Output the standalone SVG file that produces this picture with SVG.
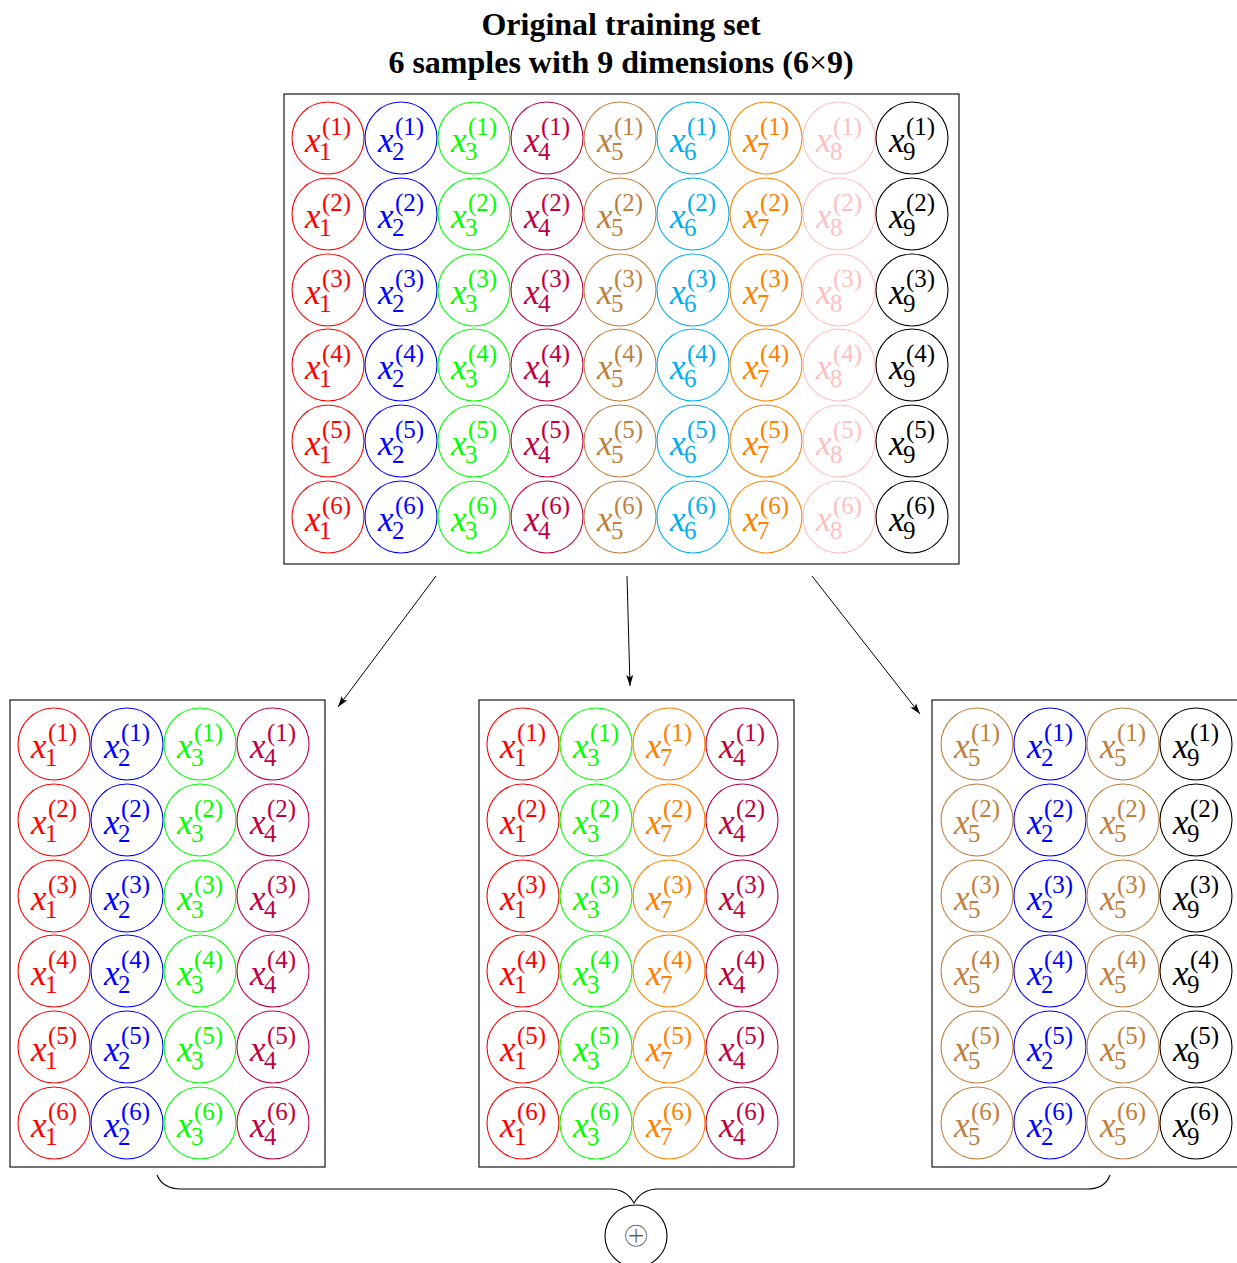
<svg xmlns="http://www.w3.org/2000/svg" width="1237" height="1263" viewBox="0 0 1237 1263">
<style>
text{font-family:"Liberation Serif","Times New Roman",serif;}
.title{font-size:32px;font-weight:bold;text-anchor:middle;fill:#000}
.n circle{fill:none;stroke:currentColor;stroke-width:1.1}
.n text{fill:currentColor}
.i{font-style:italic;font-size:35px}
.s{font-size:25px}
.box{fill:none;stroke:#000;stroke-width:1.1}
.k1{color:#ff0000}.k2{color:#0000ff}.k3{color:#00ff00}.k4{color:#bf0040}.k5{color:#bf8040}
.k6{color:#00aeef}.k7{color:#ff8000}.k8{color:#ffbfbf}.k9{color:#000000}
.conn line{stroke:#000;stroke-width:1}
</style>
<defs>
<marker id="ah" viewBox="0 0 11 8" refX="11" refY="4" markerWidth="11" markerHeight="8" markerUnits="userSpaceOnUse" orient="auto">
<path d="M0,0.5 L11,4 L0,7.5 L2.5,4 z" fill="#000"/>
</marker>
</defs>
<g id="title">
<text class="title" x="621" y="35">Original training set</text>
<text class="title" x="621" y="73">6 samples with 9 dimensions (6<tspan font-weight="normal">×</tspan>9)</text>
</g>
<g id="original">
<rect class="box" x="284" y="94" width="675" height="470"/>
<g class="n k1" transform="translate(328,138)"><circle r="36"/><text><tspan class="i" x="-23" y="14">x</tspan><tspan class="s" x="-9" y="22">1</tspan><tspan class="s" x="-6" y="-3">(1)</tspan></text></g>
<g class="n k2" transform="translate(401,138)"><circle r="36"/><text><tspan class="i" x="-23" y="14">x</tspan><tspan class="s" x="-9" y="22">2</tspan><tspan class="s" x="-6" y="-3">(1)</tspan></text></g>
<g class="n k3" transform="translate(474,138)"><circle r="36"/><text><tspan class="i" x="-23" y="14">x</tspan><tspan class="s" x="-9" y="22">3</tspan><tspan class="s" x="-6" y="-3">(1)</tspan></text></g>
<g class="n k4" transform="translate(547,138)"><circle r="36"/><text><tspan class="i" x="-23" y="14">x</tspan><tspan class="s" x="-9" y="22">4</tspan><tspan class="s" x="-6" y="-3">(1)</tspan></text></g>
<g class="n k5" transform="translate(620,138)"><circle r="36"/><text><tspan class="i" x="-23" y="14">x</tspan><tspan class="s" x="-9" y="22">5</tspan><tspan class="s" x="-6" y="-3">(1)</tspan></text></g>
<g class="n k6" transform="translate(693,138)"><circle r="36"/><text><tspan class="i" x="-23" y="14">x</tspan><tspan class="s" x="-9" y="22">6</tspan><tspan class="s" x="-6" y="-3">(1)</tspan></text></g>
<g class="n k7" transform="translate(766,138)"><circle r="36"/><text><tspan class="i" x="-23" y="14">x</tspan><tspan class="s" x="-9" y="22">7</tspan><tspan class="s" x="-6" y="-3">(1)</tspan></text></g>
<g class="n k8" transform="translate(839,138)"><circle r="36"/><text><tspan class="i" x="-23" y="14">x</tspan><tspan class="s" x="-9" y="22">8</tspan><tspan class="s" x="-6" y="-3">(1)</tspan></text></g>
<g class="n k9" transform="translate(912,138)"><circle r="36"/><text><tspan class="i" x="-23" y="14">x</tspan><tspan class="s" x="-9" y="22">9</tspan><tspan class="s" x="-6" y="-3">(1)</tspan></text></g>
<g class="n k1" transform="translate(328,214)"><circle r="36"/><text><tspan class="i" x="-23" y="14">x</tspan><tspan class="s" x="-9" y="22">1</tspan><tspan class="s" x="-6" y="-3">(2)</tspan></text></g>
<g class="n k2" transform="translate(401,214)"><circle r="36"/><text><tspan class="i" x="-23" y="14">x</tspan><tspan class="s" x="-9" y="22">2</tspan><tspan class="s" x="-6" y="-3">(2)</tspan></text></g>
<g class="n k3" transform="translate(474,214)"><circle r="36"/><text><tspan class="i" x="-23" y="14">x</tspan><tspan class="s" x="-9" y="22">3</tspan><tspan class="s" x="-6" y="-3">(2)</tspan></text></g>
<g class="n k4" transform="translate(547,214)"><circle r="36"/><text><tspan class="i" x="-23" y="14">x</tspan><tspan class="s" x="-9" y="22">4</tspan><tspan class="s" x="-6" y="-3">(2)</tspan></text></g>
<g class="n k5" transform="translate(620,214)"><circle r="36"/><text><tspan class="i" x="-23" y="14">x</tspan><tspan class="s" x="-9" y="22">5</tspan><tspan class="s" x="-6" y="-3">(2)</tspan></text></g>
<g class="n k6" transform="translate(693,214)"><circle r="36"/><text><tspan class="i" x="-23" y="14">x</tspan><tspan class="s" x="-9" y="22">6</tspan><tspan class="s" x="-6" y="-3">(2)</tspan></text></g>
<g class="n k7" transform="translate(766,214)"><circle r="36"/><text><tspan class="i" x="-23" y="14">x</tspan><tspan class="s" x="-9" y="22">7</tspan><tspan class="s" x="-6" y="-3">(2)</tspan></text></g>
<g class="n k8" transform="translate(839,214)"><circle r="36"/><text><tspan class="i" x="-23" y="14">x</tspan><tspan class="s" x="-9" y="22">8</tspan><tspan class="s" x="-6" y="-3">(2)</tspan></text></g>
<g class="n k9" transform="translate(912,214)"><circle r="36"/><text><tspan class="i" x="-23" y="14">x</tspan><tspan class="s" x="-9" y="22">9</tspan><tspan class="s" x="-6" y="-3">(2)</tspan></text></g>
<g class="n k1" transform="translate(328,290)"><circle r="36"/><text><tspan class="i" x="-23" y="14">x</tspan><tspan class="s" x="-9" y="22">1</tspan><tspan class="s" x="-6" y="-3">(3)</tspan></text></g>
<g class="n k2" transform="translate(401,290)"><circle r="36"/><text><tspan class="i" x="-23" y="14">x</tspan><tspan class="s" x="-9" y="22">2</tspan><tspan class="s" x="-6" y="-3">(3)</tspan></text></g>
<g class="n k3" transform="translate(474,290)"><circle r="36"/><text><tspan class="i" x="-23" y="14">x</tspan><tspan class="s" x="-9" y="22">3</tspan><tspan class="s" x="-6" y="-3">(3)</tspan></text></g>
<g class="n k4" transform="translate(547,290)"><circle r="36"/><text><tspan class="i" x="-23" y="14">x</tspan><tspan class="s" x="-9" y="22">4</tspan><tspan class="s" x="-6" y="-3">(3)</tspan></text></g>
<g class="n k5" transform="translate(620,290)"><circle r="36"/><text><tspan class="i" x="-23" y="14">x</tspan><tspan class="s" x="-9" y="22">5</tspan><tspan class="s" x="-6" y="-3">(3)</tspan></text></g>
<g class="n k6" transform="translate(693,290)"><circle r="36"/><text><tspan class="i" x="-23" y="14">x</tspan><tspan class="s" x="-9" y="22">6</tspan><tspan class="s" x="-6" y="-3">(3)</tspan></text></g>
<g class="n k7" transform="translate(766,290)"><circle r="36"/><text><tspan class="i" x="-23" y="14">x</tspan><tspan class="s" x="-9" y="22">7</tspan><tspan class="s" x="-6" y="-3">(3)</tspan></text></g>
<g class="n k8" transform="translate(839,290)"><circle r="36"/><text><tspan class="i" x="-23" y="14">x</tspan><tspan class="s" x="-9" y="22">8</tspan><tspan class="s" x="-6" y="-3">(3)</tspan></text></g>
<g class="n k9" transform="translate(912,290)"><circle r="36"/><text><tspan class="i" x="-23" y="14">x</tspan><tspan class="s" x="-9" y="22">9</tspan><tspan class="s" x="-6" y="-3">(3)</tspan></text></g>
<g class="n k1" transform="translate(328,365)"><circle r="36"/><text><tspan class="i" x="-23" y="14">x</tspan><tspan class="s" x="-9" y="22">1</tspan><tspan class="s" x="-6" y="-3">(4)</tspan></text></g>
<g class="n k2" transform="translate(401,365)"><circle r="36"/><text><tspan class="i" x="-23" y="14">x</tspan><tspan class="s" x="-9" y="22">2</tspan><tspan class="s" x="-6" y="-3">(4)</tspan></text></g>
<g class="n k3" transform="translate(474,365)"><circle r="36"/><text><tspan class="i" x="-23" y="14">x</tspan><tspan class="s" x="-9" y="22">3</tspan><tspan class="s" x="-6" y="-3">(4)</tspan></text></g>
<g class="n k4" transform="translate(547,365)"><circle r="36"/><text><tspan class="i" x="-23" y="14">x</tspan><tspan class="s" x="-9" y="22">4</tspan><tspan class="s" x="-6" y="-3">(4)</tspan></text></g>
<g class="n k5" transform="translate(620,365)"><circle r="36"/><text><tspan class="i" x="-23" y="14">x</tspan><tspan class="s" x="-9" y="22">5</tspan><tspan class="s" x="-6" y="-3">(4)</tspan></text></g>
<g class="n k6" transform="translate(693,365)"><circle r="36"/><text><tspan class="i" x="-23" y="14">x</tspan><tspan class="s" x="-9" y="22">6</tspan><tspan class="s" x="-6" y="-3">(4)</tspan></text></g>
<g class="n k7" transform="translate(766,365)"><circle r="36"/><text><tspan class="i" x="-23" y="14">x</tspan><tspan class="s" x="-9" y="22">7</tspan><tspan class="s" x="-6" y="-3">(4)</tspan></text></g>
<g class="n k8" transform="translate(839,365)"><circle r="36"/><text><tspan class="i" x="-23" y="14">x</tspan><tspan class="s" x="-9" y="22">8</tspan><tspan class="s" x="-6" y="-3">(4)</tspan></text></g>
<g class="n k9" transform="translate(912,365)"><circle r="36"/><text><tspan class="i" x="-23" y="14">x</tspan><tspan class="s" x="-9" y="22">9</tspan><tspan class="s" x="-6" y="-3">(4)</tspan></text></g>
<g class="n k1" transform="translate(328,441)"><circle r="36"/><text><tspan class="i" x="-23" y="14">x</tspan><tspan class="s" x="-9" y="22">1</tspan><tspan class="s" x="-6" y="-3">(5)</tspan></text></g>
<g class="n k2" transform="translate(401,441)"><circle r="36"/><text><tspan class="i" x="-23" y="14">x</tspan><tspan class="s" x="-9" y="22">2</tspan><tspan class="s" x="-6" y="-3">(5)</tspan></text></g>
<g class="n k3" transform="translate(474,441)"><circle r="36"/><text><tspan class="i" x="-23" y="14">x</tspan><tspan class="s" x="-9" y="22">3</tspan><tspan class="s" x="-6" y="-3">(5)</tspan></text></g>
<g class="n k4" transform="translate(547,441)"><circle r="36"/><text><tspan class="i" x="-23" y="14">x</tspan><tspan class="s" x="-9" y="22">4</tspan><tspan class="s" x="-6" y="-3">(5)</tspan></text></g>
<g class="n k5" transform="translate(620,441)"><circle r="36"/><text><tspan class="i" x="-23" y="14">x</tspan><tspan class="s" x="-9" y="22">5</tspan><tspan class="s" x="-6" y="-3">(5)</tspan></text></g>
<g class="n k6" transform="translate(693,441)"><circle r="36"/><text><tspan class="i" x="-23" y="14">x</tspan><tspan class="s" x="-9" y="22">6</tspan><tspan class="s" x="-6" y="-3">(5)</tspan></text></g>
<g class="n k7" transform="translate(766,441)"><circle r="36"/><text><tspan class="i" x="-23" y="14">x</tspan><tspan class="s" x="-9" y="22">7</tspan><tspan class="s" x="-6" y="-3">(5)</tspan></text></g>
<g class="n k8" transform="translate(839,441)"><circle r="36"/><text><tspan class="i" x="-23" y="14">x</tspan><tspan class="s" x="-9" y="22">8</tspan><tspan class="s" x="-6" y="-3">(5)</tspan></text></g>
<g class="n k9" transform="translate(912,441)"><circle r="36"/><text><tspan class="i" x="-23" y="14">x</tspan><tspan class="s" x="-9" y="22">9</tspan><tspan class="s" x="-6" y="-3">(5)</tspan></text></g>
<g class="n k1" transform="translate(328,517)"><circle r="36"/><text><tspan class="i" x="-23" y="14">x</tspan><tspan class="s" x="-9" y="22">1</tspan><tspan class="s" x="-6" y="-3">(6)</tspan></text></g>
<g class="n k2" transform="translate(401,517)"><circle r="36"/><text><tspan class="i" x="-23" y="14">x</tspan><tspan class="s" x="-9" y="22">2</tspan><tspan class="s" x="-6" y="-3">(6)</tspan></text></g>
<g class="n k3" transform="translate(474,517)"><circle r="36"/><text><tspan class="i" x="-23" y="14">x</tspan><tspan class="s" x="-9" y="22">3</tspan><tspan class="s" x="-6" y="-3">(6)</tspan></text></g>
<g class="n k4" transform="translate(547,517)"><circle r="36"/><text><tspan class="i" x="-23" y="14">x</tspan><tspan class="s" x="-9" y="22">4</tspan><tspan class="s" x="-6" y="-3">(6)</tspan></text></g>
<g class="n k5" transform="translate(620,517)"><circle r="36"/><text><tspan class="i" x="-23" y="14">x</tspan><tspan class="s" x="-9" y="22">5</tspan><tspan class="s" x="-6" y="-3">(6)</tspan></text></g>
<g class="n k6" transform="translate(693,517)"><circle r="36"/><text><tspan class="i" x="-23" y="14">x</tspan><tspan class="s" x="-9" y="22">6</tspan><tspan class="s" x="-6" y="-3">(6)</tspan></text></g>
<g class="n k7" transform="translate(766,517)"><circle r="36"/><text><tspan class="i" x="-23" y="14">x</tspan><tspan class="s" x="-9" y="22">7</tspan><tspan class="s" x="-6" y="-3">(6)</tspan></text></g>
<g class="n k8" transform="translate(839,517)"><circle r="36"/><text><tspan class="i" x="-23" y="14">x</tspan><tspan class="s" x="-9" y="22">8</tspan><tspan class="s" x="-6" y="-3">(6)</tspan></text></g>
<g class="n k9" transform="translate(912,517)"><circle r="36"/><text><tspan class="i" x="-23" y="14">x</tspan><tspan class="s" x="-9" y="22">9</tspan><tspan class="s" x="-6" y="-3">(6)</tspan></text></g>
</g>
<g id="subset1">
<rect class="box" x="10" y="700" width="315" height="467"/>
<g class="n k1" transform="translate(54,744)"><circle r="36"/><text><tspan class="i" x="-23" y="14">x</tspan><tspan class="s" x="-9" y="22">1</tspan><tspan class="s" x="-6" y="-3">(1)</tspan></text></g>
<g class="n k2" transform="translate(127,744)"><circle r="36"/><text><tspan class="i" x="-23" y="14">x</tspan><tspan class="s" x="-9" y="22">2</tspan><tspan class="s" x="-6" y="-3">(1)</tspan></text></g>
<g class="n k3" transform="translate(200,744)"><circle r="36"/><text><tspan class="i" x="-23" y="14">x</tspan><tspan class="s" x="-9" y="22">3</tspan><tspan class="s" x="-6" y="-3">(1)</tspan></text></g>
<g class="n k4" transform="translate(273,744)"><circle r="36"/><text><tspan class="i" x="-23" y="14">x</tspan><tspan class="s" x="-9" y="22">4</tspan><tspan class="s" x="-6" y="-3">(1)</tspan></text></g>
<g class="n k1" transform="translate(54,820)"><circle r="36"/><text><tspan class="i" x="-23" y="14">x</tspan><tspan class="s" x="-9" y="22">1</tspan><tspan class="s" x="-6" y="-3">(2)</tspan></text></g>
<g class="n k2" transform="translate(127,820)"><circle r="36"/><text><tspan class="i" x="-23" y="14">x</tspan><tspan class="s" x="-9" y="22">2</tspan><tspan class="s" x="-6" y="-3">(2)</tspan></text></g>
<g class="n k3" transform="translate(200,820)"><circle r="36"/><text><tspan class="i" x="-23" y="14">x</tspan><tspan class="s" x="-9" y="22">3</tspan><tspan class="s" x="-6" y="-3">(2)</tspan></text></g>
<g class="n k4" transform="translate(273,820)"><circle r="36"/><text><tspan class="i" x="-23" y="14">x</tspan><tspan class="s" x="-9" y="22">4</tspan><tspan class="s" x="-6" y="-3">(2)</tspan></text></g>
<g class="n k1" transform="translate(54,896)"><circle r="36"/><text><tspan class="i" x="-23" y="14">x</tspan><tspan class="s" x="-9" y="22">1</tspan><tspan class="s" x="-6" y="-3">(3)</tspan></text></g>
<g class="n k2" transform="translate(127,896)"><circle r="36"/><text><tspan class="i" x="-23" y="14">x</tspan><tspan class="s" x="-9" y="22">2</tspan><tspan class="s" x="-6" y="-3">(3)</tspan></text></g>
<g class="n k3" transform="translate(200,896)"><circle r="36"/><text><tspan class="i" x="-23" y="14">x</tspan><tspan class="s" x="-9" y="22">3</tspan><tspan class="s" x="-6" y="-3">(3)</tspan></text></g>
<g class="n k4" transform="translate(273,896)"><circle r="36"/><text><tspan class="i" x="-23" y="14">x</tspan><tspan class="s" x="-9" y="22">4</tspan><tspan class="s" x="-6" y="-3">(3)</tspan></text></g>
<g class="n k1" transform="translate(54,971)"><circle r="36"/><text><tspan class="i" x="-23" y="14">x</tspan><tspan class="s" x="-9" y="22">1</tspan><tspan class="s" x="-6" y="-3">(4)</tspan></text></g>
<g class="n k2" transform="translate(127,971)"><circle r="36"/><text><tspan class="i" x="-23" y="14">x</tspan><tspan class="s" x="-9" y="22">2</tspan><tspan class="s" x="-6" y="-3">(4)</tspan></text></g>
<g class="n k3" transform="translate(200,971)"><circle r="36"/><text><tspan class="i" x="-23" y="14">x</tspan><tspan class="s" x="-9" y="22">3</tspan><tspan class="s" x="-6" y="-3">(4)</tspan></text></g>
<g class="n k4" transform="translate(273,971)"><circle r="36"/><text><tspan class="i" x="-23" y="14">x</tspan><tspan class="s" x="-9" y="22">4</tspan><tspan class="s" x="-6" y="-3">(4)</tspan></text></g>
<g class="n k1" transform="translate(54,1047)"><circle r="36"/><text><tspan class="i" x="-23" y="14">x</tspan><tspan class="s" x="-9" y="22">1</tspan><tspan class="s" x="-6" y="-3">(5)</tspan></text></g>
<g class="n k2" transform="translate(127,1047)"><circle r="36"/><text><tspan class="i" x="-23" y="14">x</tspan><tspan class="s" x="-9" y="22">2</tspan><tspan class="s" x="-6" y="-3">(5)</tspan></text></g>
<g class="n k3" transform="translate(200,1047)"><circle r="36"/><text><tspan class="i" x="-23" y="14">x</tspan><tspan class="s" x="-9" y="22">3</tspan><tspan class="s" x="-6" y="-3">(5)</tspan></text></g>
<g class="n k4" transform="translate(273,1047)"><circle r="36"/><text><tspan class="i" x="-23" y="14">x</tspan><tspan class="s" x="-9" y="22">4</tspan><tspan class="s" x="-6" y="-3">(5)</tspan></text></g>
<g class="n k1" transform="translate(54,1123)"><circle r="36"/><text><tspan class="i" x="-23" y="14">x</tspan><tspan class="s" x="-9" y="22">1</tspan><tspan class="s" x="-6" y="-3">(6)</tspan></text></g>
<g class="n k2" transform="translate(127,1123)"><circle r="36"/><text><tspan class="i" x="-23" y="14">x</tspan><tspan class="s" x="-9" y="22">2</tspan><tspan class="s" x="-6" y="-3">(6)</tspan></text></g>
<g class="n k3" transform="translate(200,1123)"><circle r="36"/><text><tspan class="i" x="-23" y="14">x</tspan><tspan class="s" x="-9" y="22">3</tspan><tspan class="s" x="-6" y="-3">(6)</tspan></text></g>
<g class="n k4" transform="translate(273,1123)"><circle r="36"/><text><tspan class="i" x="-23" y="14">x</tspan><tspan class="s" x="-9" y="22">4</tspan><tspan class="s" x="-6" y="-3">(6)</tspan></text></g>
</g>
<g id="subset2">
<rect class="box" x="479" y="700" width="315" height="467"/>
<g class="n k1" transform="translate(523,744)"><circle r="36"/><text><tspan class="i" x="-23" y="14">x</tspan><tspan class="s" x="-9" y="22">1</tspan><tspan class="s" x="-6" y="-3">(1)</tspan></text></g>
<g class="n k3" transform="translate(596,744)"><circle r="36"/><text><tspan class="i" x="-23" y="14">x</tspan><tspan class="s" x="-9" y="22">3</tspan><tspan class="s" x="-6" y="-3">(1)</tspan></text></g>
<g class="n k7" transform="translate(669,744)"><circle r="36"/><text><tspan class="i" x="-23" y="14">x</tspan><tspan class="s" x="-9" y="22">7</tspan><tspan class="s" x="-6" y="-3">(1)</tspan></text></g>
<g class="n k4" transform="translate(742,744)"><circle r="36"/><text><tspan class="i" x="-23" y="14">x</tspan><tspan class="s" x="-9" y="22">4</tspan><tspan class="s" x="-6" y="-3">(1)</tspan></text></g>
<g class="n k1" transform="translate(523,820)"><circle r="36"/><text><tspan class="i" x="-23" y="14">x</tspan><tspan class="s" x="-9" y="22">1</tspan><tspan class="s" x="-6" y="-3">(2)</tspan></text></g>
<g class="n k3" transform="translate(596,820)"><circle r="36"/><text><tspan class="i" x="-23" y="14">x</tspan><tspan class="s" x="-9" y="22">3</tspan><tspan class="s" x="-6" y="-3">(2)</tspan></text></g>
<g class="n k7" transform="translate(669,820)"><circle r="36"/><text><tspan class="i" x="-23" y="14">x</tspan><tspan class="s" x="-9" y="22">7</tspan><tspan class="s" x="-6" y="-3">(2)</tspan></text></g>
<g class="n k4" transform="translate(742,820)"><circle r="36"/><text><tspan class="i" x="-23" y="14">x</tspan><tspan class="s" x="-9" y="22">4</tspan><tspan class="s" x="-6" y="-3">(2)</tspan></text></g>
<g class="n k1" transform="translate(523,896)"><circle r="36"/><text><tspan class="i" x="-23" y="14">x</tspan><tspan class="s" x="-9" y="22">1</tspan><tspan class="s" x="-6" y="-3">(3)</tspan></text></g>
<g class="n k3" transform="translate(596,896)"><circle r="36"/><text><tspan class="i" x="-23" y="14">x</tspan><tspan class="s" x="-9" y="22">3</tspan><tspan class="s" x="-6" y="-3">(3)</tspan></text></g>
<g class="n k7" transform="translate(669,896)"><circle r="36"/><text><tspan class="i" x="-23" y="14">x</tspan><tspan class="s" x="-9" y="22">7</tspan><tspan class="s" x="-6" y="-3">(3)</tspan></text></g>
<g class="n k4" transform="translate(742,896)"><circle r="36"/><text><tspan class="i" x="-23" y="14">x</tspan><tspan class="s" x="-9" y="22">4</tspan><tspan class="s" x="-6" y="-3">(3)</tspan></text></g>
<g class="n k1" transform="translate(523,971)"><circle r="36"/><text><tspan class="i" x="-23" y="14">x</tspan><tspan class="s" x="-9" y="22">1</tspan><tspan class="s" x="-6" y="-3">(4)</tspan></text></g>
<g class="n k3" transform="translate(596,971)"><circle r="36"/><text><tspan class="i" x="-23" y="14">x</tspan><tspan class="s" x="-9" y="22">3</tspan><tspan class="s" x="-6" y="-3">(4)</tspan></text></g>
<g class="n k7" transform="translate(669,971)"><circle r="36"/><text><tspan class="i" x="-23" y="14">x</tspan><tspan class="s" x="-9" y="22">7</tspan><tspan class="s" x="-6" y="-3">(4)</tspan></text></g>
<g class="n k4" transform="translate(742,971)"><circle r="36"/><text><tspan class="i" x="-23" y="14">x</tspan><tspan class="s" x="-9" y="22">4</tspan><tspan class="s" x="-6" y="-3">(4)</tspan></text></g>
<g class="n k1" transform="translate(523,1047)"><circle r="36"/><text><tspan class="i" x="-23" y="14">x</tspan><tspan class="s" x="-9" y="22">1</tspan><tspan class="s" x="-6" y="-3">(5)</tspan></text></g>
<g class="n k3" transform="translate(596,1047)"><circle r="36"/><text><tspan class="i" x="-23" y="14">x</tspan><tspan class="s" x="-9" y="22">3</tspan><tspan class="s" x="-6" y="-3">(5)</tspan></text></g>
<g class="n k7" transform="translate(669,1047)"><circle r="36"/><text><tspan class="i" x="-23" y="14">x</tspan><tspan class="s" x="-9" y="22">7</tspan><tspan class="s" x="-6" y="-3">(5)</tspan></text></g>
<g class="n k4" transform="translate(742,1047)"><circle r="36"/><text><tspan class="i" x="-23" y="14">x</tspan><tspan class="s" x="-9" y="22">4</tspan><tspan class="s" x="-6" y="-3">(5)</tspan></text></g>
<g class="n k1" transform="translate(523,1123)"><circle r="36"/><text><tspan class="i" x="-23" y="14">x</tspan><tspan class="s" x="-9" y="22">1</tspan><tspan class="s" x="-6" y="-3">(6)</tspan></text></g>
<g class="n k3" transform="translate(596,1123)"><circle r="36"/><text><tspan class="i" x="-23" y="14">x</tspan><tspan class="s" x="-9" y="22">3</tspan><tspan class="s" x="-6" y="-3">(6)</tspan></text></g>
<g class="n k7" transform="translate(669,1123)"><circle r="36"/><text><tspan class="i" x="-23" y="14">x</tspan><tspan class="s" x="-9" y="22">7</tspan><tspan class="s" x="-6" y="-3">(6)</tspan></text></g>
<g class="n k4" transform="translate(742,1123)"><circle r="36"/><text><tspan class="i" x="-23" y="14">x</tspan><tspan class="s" x="-9" y="22">4</tspan><tspan class="s" x="-6" y="-3">(6)</tspan></text></g>
</g>
<g id="subset3">
<rect class="box" x="932" y="700" width="315" height="467"/>
<g class="n k5" transform="translate(977,744)"><circle r="36"/><text><tspan class="i" x="-23" y="14">x</tspan><tspan class="s" x="-9" y="22">5</tspan><tspan class="s" x="-6" y="-3">(1)</tspan></text></g>
<g class="n k2" transform="translate(1050,744)"><circle r="36"/><text><tspan class="i" x="-23" y="14">x</tspan><tspan class="s" x="-9" y="22">2</tspan><tspan class="s" x="-6" y="-3">(1)</tspan></text></g>
<g class="n k5" transform="translate(1123,744)"><circle r="36"/><text><tspan class="i" x="-23" y="14">x</tspan><tspan class="s" x="-9" y="22">5</tspan><tspan class="s" x="-6" y="-3">(1)</tspan></text></g>
<g class="n k9" transform="translate(1196,744)"><circle r="36"/><text><tspan class="i" x="-23" y="14">x</tspan><tspan class="s" x="-9" y="22">9</tspan><tspan class="s" x="-6" y="-3">(1)</tspan></text></g>
<g class="n k5" transform="translate(977,820)"><circle r="36"/><text><tspan class="i" x="-23" y="14">x</tspan><tspan class="s" x="-9" y="22">5</tspan><tspan class="s" x="-6" y="-3">(2)</tspan></text></g>
<g class="n k2" transform="translate(1050,820)"><circle r="36"/><text><tspan class="i" x="-23" y="14">x</tspan><tspan class="s" x="-9" y="22">2</tspan><tspan class="s" x="-6" y="-3">(2)</tspan></text></g>
<g class="n k5" transform="translate(1123,820)"><circle r="36"/><text><tspan class="i" x="-23" y="14">x</tspan><tspan class="s" x="-9" y="22">5</tspan><tspan class="s" x="-6" y="-3">(2)</tspan></text></g>
<g class="n k9" transform="translate(1196,820)"><circle r="36"/><text><tspan class="i" x="-23" y="14">x</tspan><tspan class="s" x="-9" y="22">9</tspan><tspan class="s" x="-6" y="-3">(2)</tspan></text></g>
<g class="n k5" transform="translate(977,896)"><circle r="36"/><text><tspan class="i" x="-23" y="14">x</tspan><tspan class="s" x="-9" y="22">5</tspan><tspan class="s" x="-6" y="-3">(3)</tspan></text></g>
<g class="n k2" transform="translate(1050,896)"><circle r="36"/><text><tspan class="i" x="-23" y="14">x</tspan><tspan class="s" x="-9" y="22">2</tspan><tspan class="s" x="-6" y="-3">(3)</tspan></text></g>
<g class="n k5" transform="translate(1123,896)"><circle r="36"/><text><tspan class="i" x="-23" y="14">x</tspan><tspan class="s" x="-9" y="22">5</tspan><tspan class="s" x="-6" y="-3">(3)</tspan></text></g>
<g class="n k9" transform="translate(1196,896)"><circle r="36"/><text><tspan class="i" x="-23" y="14">x</tspan><tspan class="s" x="-9" y="22">9</tspan><tspan class="s" x="-6" y="-3">(3)</tspan></text></g>
<g class="n k5" transform="translate(977,971)"><circle r="36"/><text><tspan class="i" x="-23" y="14">x</tspan><tspan class="s" x="-9" y="22">5</tspan><tspan class="s" x="-6" y="-3">(4)</tspan></text></g>
<g class="n k2" transform="translate(1050,971)"><circle r="36"/><text><tspan class="i" x="-23" y="14">x</tspan><tspan class="s" x="-9" y="22">2</tspan><tspan class="s" x="-6" y="-3">(4)</tspan></text></g>
<g class="n k5" transform="translate(1123,971)"><circle r="36"/><text><tspan class="i" x="-23" y="14">x</tspan><tspan class="s" x="-9" y="22">5</tspan><tspan class="s" x="-6" y="-3">(4)</tspan></text></g>
<g class="n k9" transform="translate(1196,971)"><circle r="36"/><text><tspan class="i" x="-23" y="14">x</tspan><tspan class="s" x="-9" y="22">9</tspan><tspan class="s" x="-6" y="-3">(4)</tspan></text></g>
<g class="n k5" transform="translate(977,1047)"><circle r="36"/><text><tspan class="i" x="-23" y="14">x</tspan><tspan class="s" x="-9" y="22">5</tspan><tspan class="s" x="-6" y="-3">(5)</tspan></text></g>
<g class="n k2" transform="translate(1050,1047)"><circle r="36"/><text><tspan class="i" x="-23" y="14">x</tspan><tspan class="s" x="-9" y="22">2</tspan><tspan class="s" x="-6" y="-3">(5)</tspan></text></g>
<g class="n k5" transform="translate(1123,1047)"><circle r="36"/><text><tspan class="i" x="-23" y="14">x</tspan><tspan class="s" x="-9" y="22">5</tspan><tspan class="s" x="-6" y="-3">(5)</tspan></text></g>
<g class="n k9" transform="translate(1196,1047)"><circle r="36"/><text><tspan class="i" x="-23" y="14">x</tspan><tspan class="s" x="-9" y="22">9</tspan><tspan class="s" x="-6" y="-3">(5)</tspan></text></g>
<g class="n k5" transform="translate(977,1123)"><circle r="36"/><text><tspan class="i" x="-23" y="14">x</tspan><tspan class="s" x="-9" y="22">5</tspan><tspan class="s" x="-6" y="-3">(6)</tspan></text></g>
<g class="n k2" transform="translate(1050,1123)"><circle r="36"/><text><tspan class="i" x="-23" y="14">x</tspan><tspan class="s" x="-9" y="22">2</tspan><tspan class="s" x="-6" y="-3">(6)</tspan></text></g>
<g class="n k5" transform="translate(1123,1123)"><circle r="36"/><text><tspan class="i" x="-23" y="14">x</tspan><tspan class="s" x="-9" y="22">5</tspan><tspan class="s" x="-6" y="-3">(6)</tspan></text></g>
<g class="n k9" transform="translate(1196,1123)"><circle r="36"/><text><tspan class="i" x="-23" y="14">x</tspan><tspan class="s" x="-9" y="22">9</tspan><tspan class="s" x="-6" y="-3">(6)</tspan></text></g>
</g>
<g id="connectors" class="conn">
<line x1="436" y1="576" x2="338" y2="707" marker-end="url(#ah)"/>
<line x1="627" y1="576" x2="630" y2="686" marker-end="url(#ah)"/>
<line x1="812" y1="576" x2="920" y2="714" marker-end="url(#ah)"/>
</g>
<g id="brace">
<path d="M157,1175 Q163,1189 181,1189 L610,1189 Q626,1189 634,1203 Q642,1189 658,1189 L1087,1189 Q1105,1189 1110,1175" fill="none" stroke="#000" stroke-width="1.1"/>
</g>
<g id="combine">
<circle cx="636" cy="1236" r="31" fill="none" stroke="#000" stroke-width="1.1"/>
<text x="636" y="1247" font-family="DejaVu Sans, sans-serif" font-size="36" text-anchor="middle" fill="#555" stroke="#fff" stroke-width="1.6">⊕</text>
</g>
</svg>
